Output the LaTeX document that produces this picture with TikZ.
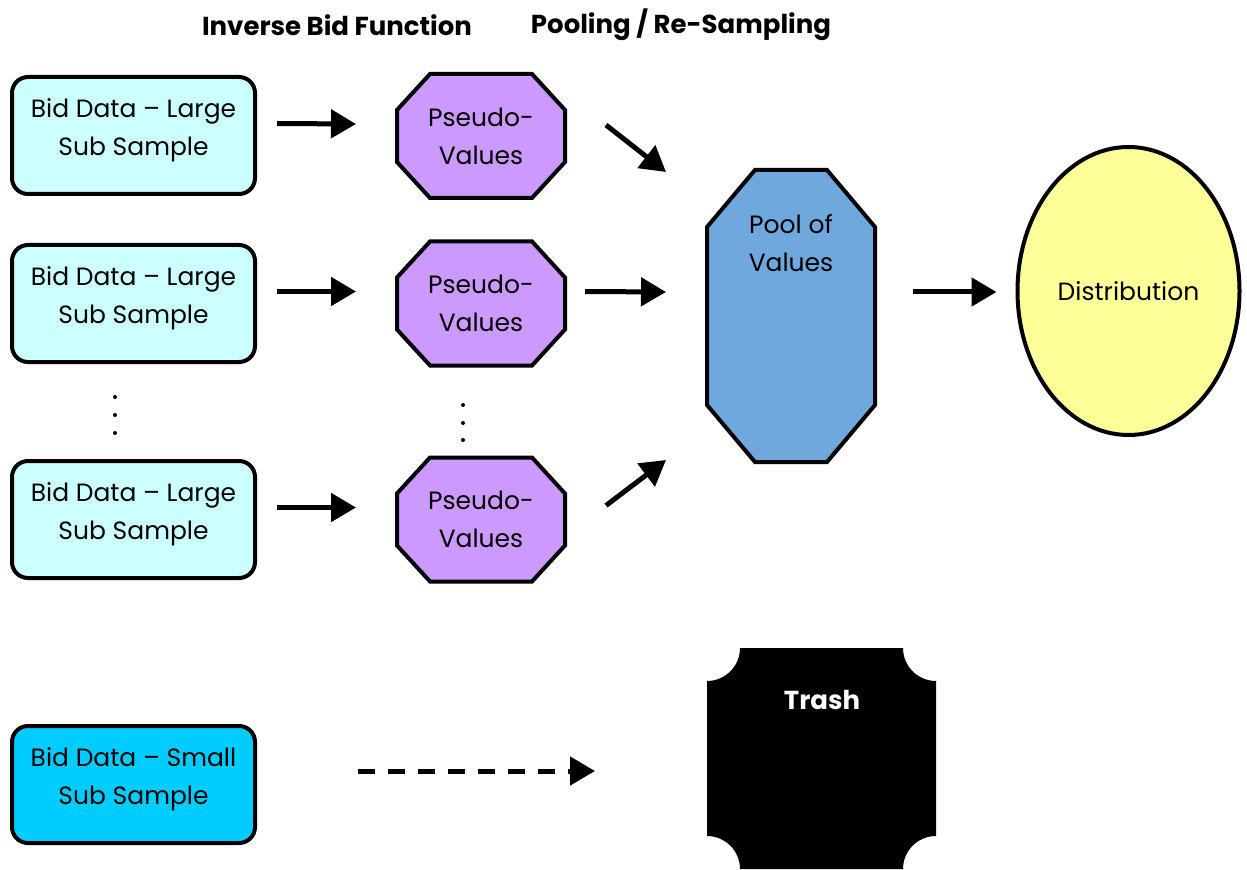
\documentclass[tikz,border=0pt]{standalone}
\usepackage{fontspec}
\setmainfont{Poppins}
\usetikzlibrary{shapes.geometric,arrows.meta,positioning,backgrounds}
\definecolor{bidcyan}{HTML}{CCFFFF}
\definecolor{smallcyan}{HTML}{00CCFF}
\definecolor{pseudopurple}{HTML}{CC99FF}
\definecolor{poolblue}{HTML}{6FA8DC}
\definecolor{distyellow}{HTML}{FFFF99}
% octagon behind a node: node, corner width, corner height, fill
\newcommand{\octbox}[4]{%
    \draw[line width=2pt, fill=#4] ([xshift=#2]#1.north west) -- ([xshift=-#2]#1.north east)
        -- ([yshift=-#3]#1.north east) -- ([yshift=#3]#1.south east)
        -- ([xshift=-#2]#1.south east) -- ([xshift=#2]#1.south west)
        -- ([yshift=#3]#1.south west) -- ([yshift=-#3]#1.north west) -- cycle;}
\begin{document}
\begin{tikzpicture}[x=0.5pt, y=0.5pt, line width=2pt,
    txt/.style = {font=\fontsize{12.5}{19}\selectfont, align=center},
    bid/.style = {txt, draw, rounded corners=8pt, fill=bidcyan, minimum width=121.5pt, minimum height=58.5pt, text depth=9pt},
    pseudo/.style = {txt, inner sep=0pt, minimum width=82pt, minimum height=60pt},
    arr/.style = {line width=2.5pt, -{Triangle[length=12.5pt, width=14pt]}},
    head/.style = {font=\fontsize{13}{16}\selectfont\bfseries}]
    \useasboundingbox (0,0) rectangle (1247,869);

    \node[head] (h1) at (337,844) {Inverse Bid Function};
    \node[head] (h2) at (681,844) {Pooling / Re-Sampling};

    \node[bid] (b1) at (133.5,733.5) {Bid Data -- Large\\Sub Sample};
    \node[bid] (b2) at (133.5,565.5) {Bid Data -- Large\\Sub Sample};
    \node[bid] (b3) at (133.5,349.5) {Bid Data -- Large\\Sub Sample};
    \node[bid, fill=smallcyan] (sb) at (133.5,84.5) {Bid Data -- Small\\Sub Sample};

    \node[pseudo] (p1) at (481,733) {Pseudo-\\Values};
    \node[pseudo] (p2) at (481,565.5) {Pseudo-\\Values};
    \node[pseudo] (p3) at (481,349.5) {Pseudo-\\Values};

    \node[inner sep=0pt, minimum width=82pt, minimum height=144pt,
          label={[txt, anchor=north, yshift=-18pt]north:Pool of\\Values}] (pool) at (791,553) {};
    \node[txt, draw, ellipse, fill=distyellow, minimum width=111pt, minimum height=144pt] (dist) at (1128.5,578) {Distribution};

    \begin{scope}[on background layer]
        \octbox{p1}{16.5pt}{18pt}{pseudopurple}
        \octbox{p2}{16.5pt}{18pt}{pseudopurple}
        \octbox{p3}{16.5pt}{18pt}{pseudopurple}
        \octbox{pool}{24pt}{28.5pt}{poolblue}
    \end{scope}

    % trash bin with scooped corners
    \fill (707,33) -- (707,188) arc[start angle=-90, end angle=0, radius=33]
        -- (903,221) arc[start angle=180, end angle=270, radius=33]
        -- (936,33) arc[start angle=90, end angle=180, radius=33]
        -- (740,0) arc[start angle=0, end angle=90, radius=33] -- cycle;
    \node[minimum width=114.5pt, minimum height=110.5pt] (trash) at (821.5,110.5) {};
    \node[head, text=white] (tt) at (822,169) {Trash};

    % dots between the rows
    \foreach \y in {472,454,436} \fill (115,\y) circle (2);
    \foreach \y in {464,446,429} \fill (463,\y) circle (2);

    \draw[arr] ([xshift=10pt,yshift=6pt]b1.east) -- ([xshift=-20.5pt,yshift=6pt]p1.west);
    \draw[arr] ([xshift=10pt,yshift=6pt]b2.east) -- ([xshift=-20.5pt,yshift=6pt]p2.west);
    \draw[arr] ([xshift=10pt,yshift=6pt]b3.east) -- ([xshift=-20.5pt,yshift=6pt]p3.west);
    \draw[arr] ([xshift=20.5pt,yshift=5.5pt]p1.east) -- ([xshift=-20.5pt,yshift=72pt]pool.west);
    \draw[arr] ([xshift=10pt,yshift=6pt]p2.east) -- ([xshift=-20.5pt,yshift=12pt]pool.west);
    \draw[arr] ([xshift=20.5pt,yshift=7pt]p3.east) -- ([xshift=-20.5pt,yshift=-72pt]pool.west);
    \draw[arr] ([xshift=19pt,yshift=12pt]pool.east) -- ([xshift=-9.5pt,yshift=-0.5pt]dist.west);
    \draw[arr, dash pattern=on 8.5pt off 6.5pt] ([xshift=50.5pt,yshift=6.75pt]sb.east) -- ([xshift=-55pt,yshift=-6.25pt]trash.west);
\end{tikzpicture}
\end{document}
